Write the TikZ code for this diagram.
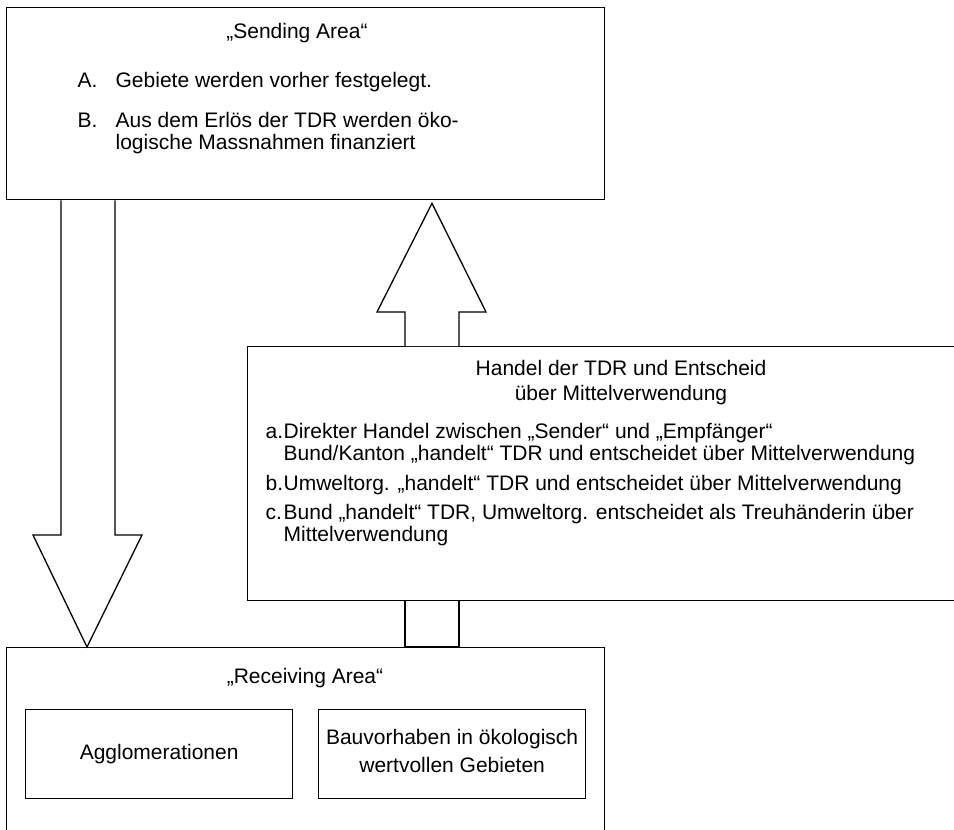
\documentclass[tikz,border=0pt]{standalone}
\usepackage{fontspec}
\setmainfont{Liberation Sans}
\usetikzlibrary{calc}
\newcommand\figfont{\fontsize{21}{22}\selectfont}
\begin{document}
\begin{tikzpicture}[x=1pt,y=-1pt,line width=1.3pt,
  box/.style={draw, rectangle, inner sep=0pt, anchor=north west},
  ltxt/.style={anchor=base west, inner sep=0pt, font=\figfont},
  ctxt/.style={anchor=base, inner sep=0pt, font=\figfont},
  arrowshape/.style={draw, fill=white, line join=miter}]
\useasboundingbox (0,0) rectangle (954,830);
\clip (0,0) rectangle (954,830);
% boxes
\node[box, minimum width=598pt, minimum height=192pt] (send) at (6,7) {};
\node[box, minimum width=760pt, minimum height=254pt] (trade) at (247,346) {};
\node[box, minimum width=598pt, minimum height=200pt] (recv) at (6,647) {};
\node[box, minimum width=267pt, minimum height=89pt] (agglo) at (25,709) {};
\node[box, minimum width=267pt, minimum height=89pt] (bau) at (318,709) {};
% arrow anchor points
\coordinate (dA) at ($(send.south west)+(55,0)$);
\coordinate (dB) at ($(send.south west)+(109,0)$);
\coordinate (dtip) at ($(recv.north west)+(81,0)$);
\coordinate (uA) at ($(trade.north west)+(158,0)$);
\coordinate (uB) at ($(trade.north west)+(212,0)$);
\coordinate (utip) at ($(send.south west)+(426,3)$);
\coordinate (lA) at ($(trade.south west)+(158,0)$);
\coordinate (lB) at ($(trade.south west)+(212,0)$);
% down arrow send -> recv
\draw[arrowshape] (dA) -- (dA |- 0,535) -- (33,535) -- (dtip) -- (142,535) -- (dB |- 0,535) -- (dB);
% up arrow trade -> send
\draw[arrowshape] (uA) -- (uA |- 0,312) -- (377,312) -- (utip) -- (486,312) -- (uB |- 0,312) -- (uB);
% connector trade -> recv
\draw (lA) -- (lA |- recv.north) -- (lB |- recv.north) -- (lB);
% texts: sending area
\node[ctxt] (st) at (297,38) {„Sending Area“};
\node[ltxt] (sAl) at (77,87) {A.};
\node[ltxt] (sA) at (115,87) {Gebiete werden vorher festgelegt.};
\node[ltxt] (sBl) at (77,127) {B.};
\node[ltxt] (sB1) at (115,127) {Aus dem Erlös der TDR werden öko-};
\node[ltxt] (sB2) at (115,149) {logische Massnahmen finanziert};
% trade box
\node[ctxt] (t1) at (621,375) {Handel der TDR und Entscheid};
\node[ctxt] (t2) at (621,400) {über Mittelverwendung};
\node[ltxt] (tal) at (265,438) {a.};
\node[ltxt] (ta1) at (283,438) {Direkter Handel zwischen „Sender“ und „Empfänger“};
\node[ltxt] (ta2) at (283,460) {Bund/Kanton „handelt“ TDR und entscheidet über Mittelverwendung};
\node[ltxt] (tbl) at (265,490) {b.};
\node[ltxt] (tb1) at (283,490) {Umweltorg. „handelt“ TDR und entscheidet über Mittelverwendung};
\node[ltxt] (tcl) at (265,519) {c.};
\node[ltxt] (tc1) at (283,519) {Bund „handelt“ TDR, Umweltorg. entscheidet als Treuhänderin über};
\node[ltxt] (tc2) at (283,541) {Mittelverwendung};
% receiving area
\node[ctxt] (rt) at (305,683) {„Receiving Area“};
\node[ctxt] (ag) at (agglo.center |- 0,759) {Agglomerationen};
\node[ctxt] (b1) at (bau.center |- 0,744) {Bauvorhaben in ökologisch};
\node[ctxt] (b2) at (bau.center |- 0,772) {wertvollen Gebieten};
\end{tikzpicture}
\end{document}
